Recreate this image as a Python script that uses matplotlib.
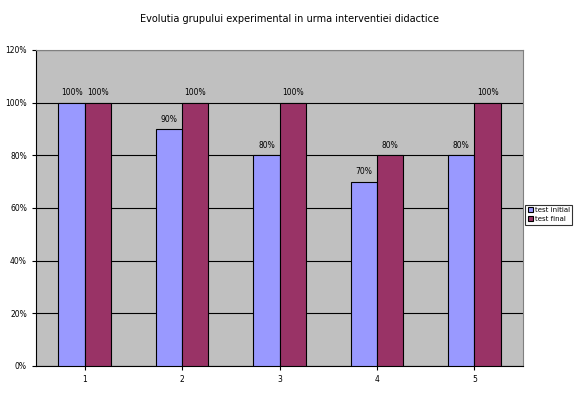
import numpy as np
import matplotlib
matplotlib.use('Agg')
import matplotlib.pyplot as plt

categories = ['1', '2', '3', '4', '5']
test_initial = [100, 90, 80, 70, 80]
test_final = [100, 100, 100, 80, 100]
series_names = ['test initial', 'test final']

fig = plt.figure(figsize=(5.8, 3.96), dpi=100)
ax = fig.add_axes([0.062, 0.076, 0.840, 0.798])
ax.set_facecolor('#C0C0C0')

x = np.arange(len(categories))
w = 0.27
b1 = ax.bar(x - w/2, test_initial, w, color='#9999FF', edgecolor='black', linewidth=0.8, label=series_names[0], zorder=3)
b2 = ax.bar(x + w/2, test_final, w, color='#993366', edgecolor='black', linewidth=0.8, label=series_names[1], zorder=3)

for bars in (b1, b2):
    for r in bars:
        ax.text(r.get_x() + r.get_width()/2, r.get_height() + 2, '%d%%' % r.get_height(),
                ha='center', va='bottom', fontsize=5.5)

ax.set_xlim(-0.5, len(categories) - 0.5)
ax.set_ylim(0, 120)
ax.set_yticks(range(0, 121, 20))
ax.set_yticklabels(['%d%%' % v for v in range(0, 121, 20)], fontsize=5.5)
ax.set_xticks(x)
ax.set_xticklabels(categories, fontsize=5.5)
ax.yaxis.grid(True, color='black', linewidth=0.8, zorder=0)
ax.tick_params(axis='y', length=3, width=0.8)
ax.tick_params(axis='x', length=3, width=0.8)
for s in ('top', 'right'):
    ax.spines[s].set_color('#808080')
ax.spines['left'].set_color('black')
ax.spines['bottom'].set_color('black')

fig.text(0.5, 0.953, 'Evolutia grupului experimental in urma interventiei didactice',
         ha='center', va='center', fontsize=7)

leg = fig.legend(loc='center left', bbox_to_anchor=(0.906, 0.458), fontsize=5,
                 frameon=True, fancybox=False, edgecolor='black', handlelength=0.7,
                 handleheight=0.7, handletextpad=0.25, borderpad=0.35, labelspacing=0.45,
                 borderaxespad=0)
leg.get_frame().set_linewidth(0.8)

plt.savefig('out.png', dpi=100)
